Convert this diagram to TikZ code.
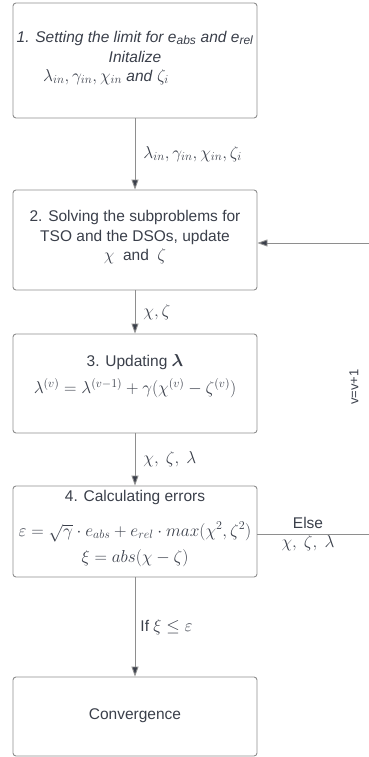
\documentclass[tikz,border=0pt]{standalone}
\usepackage{amsmath}
\usepackage{fontspec}
\setmainfont{Liberation Sans}
\usetikzlibrary{arrows.meta}
\DeclareMathSizes{15.5}{17}{12}{9}
\definecolor{ink}{HTML}{3A3F4A}
\definecolor{edge}{HTML}{8E8E8E}
\tikzset{
  stepbox/.style={draw=edge,rounded corners=3pt,line width=0.9pt,minimum width=244pt,inner sep=0pt},
  link/.style={draw=edge,line width=0.9pt},
  flow/.style={link,-{Triangle[length=10pt,width=7pt,fill=ink]}},
  txt/.style={text=ink,font=\fontsize{15.5}{19.5}\selectfont,inner sep=0pt,align=center},
}

\begin{document}
\begin{tikzpicture}[x=1pt,y=-1pt]
  \useasboundingbox (0,0) rectangle (369,757);
  % boxes
  \node[stepbox,minimum height=115pt] (init) at (135,60.5) {};
  \node[stepbox,minimum height=100pt] (solve) at (135,240) {};
  \node[stepbox,minimum height=99pt] (upd) at (135,383.5) {};
  \node[stepbox,minimum height=91pt] (err) at (135,531.5) {};
  \node[stepbox,minimum height=79pt] (conv) at (135,716.5) {};
  % box texts
  \node[txt] (t1a) at (135,38) {\itshape 1. Setting the limit for e\textsubscript{abs} and e\textsubscript{rel}};
  \node[txt] (t1b) at (135,57) {\itshape Initalize};
  \node[txt,anchor=west] (t1c) at (43,77) {$\lambda_{in},\gamma_{in},\chi_{in}$ \textit{and} $\zeta_i$};
  \node[txt] (t2) at (135,237.5) {2. Solving the subproblems for\\TSO and the DSOs, update\\$\chi$\ \ and\ \ $\zeta$};
  \node[txt] (t3a) at (135,362) {3. Updating $\boldsymbol{\lambda}$};
  \node[txt] (t3b) at (135,388) {$\lambda^{(v)}=\lambda^{(v-1)}+\gamma(\chi^{(v)}-\zeta^{(v)})$};
  \node[txt] (t4a) at (135,497) {4. Calculating errors};
  \node[txt] (t4b) at (135,532) {$\varepsilon=\sqrt{\gamma}\cdot e_{abs}+e_{rel}\cdot max(\chi^2,\zeta^2)$};
  \node[txt] (t4c) at (135,558) {$\xi=abs(\chi-\zeta)$};
  \node[txt] (t5) at (135,716) {Convergence};
  % connectors
  \draw[flow] (init) -- node[txt,right=8pt] {$\lambda_{in},\gamma_{in},\chi_{in},\zeta_i$} (solve);
  \draw[flow] (solve) -- node[txt,right=8pt] {$\chi,\zeta$} (upd);
  \draw[flow] (upd) -- node[txt,right=8pt] {$\chi,\ \zeta,\ \lambda$} (err);
  \draw[flow] (err) -- node[txt,right=5pt] {If $\xi\leq\varepsilon$} (conv);
  % feedback
  \coordinate (fbot) at (369,534);
  \coordinate (ftop) at (369,243);
  \draw[link] (err.east |- fbot) -- (fbot);
  \draw[flow] (ftop) -- (solve.east |- ftop);
  \node[txt] (else) at (308,523) {Else};
  \node[txt] (vars) at (308,543) {$\chi,\ \zeta,\ \lambda$};
  \node[txt,rotate=90,font=\fontsize{13}{15}\selectfont] (iter) at (354,387) {v=v+1};
\end{tikzpicture}
\end{document}
